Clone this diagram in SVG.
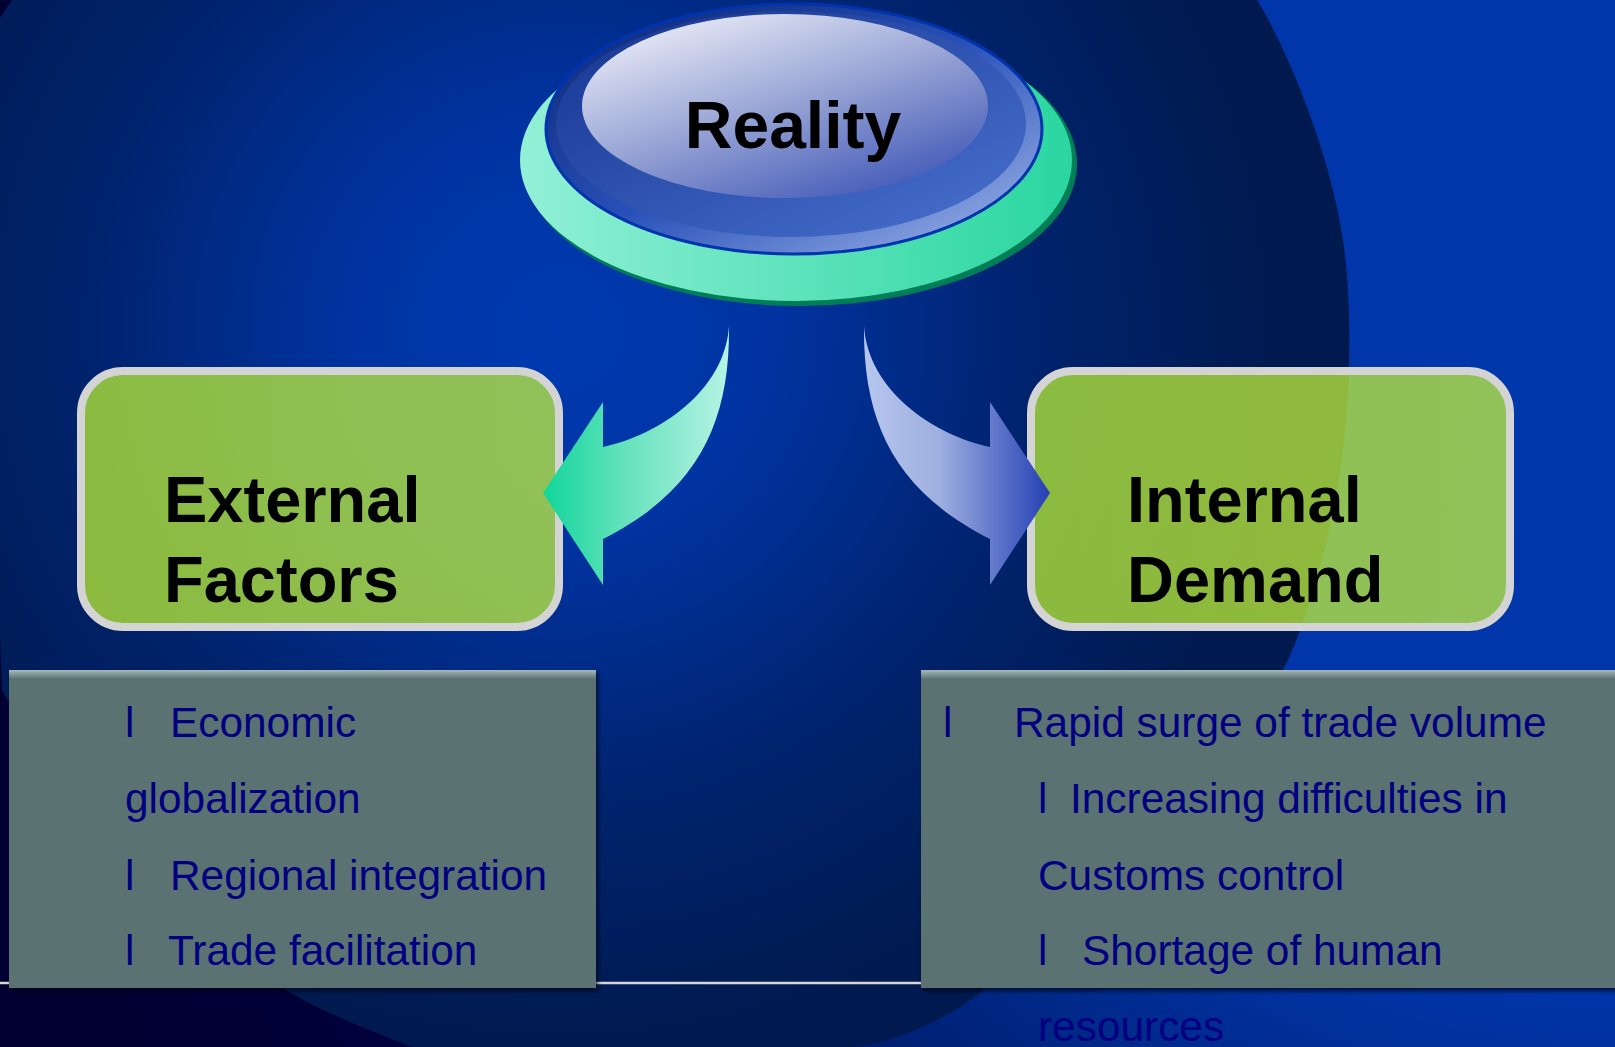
<svg xmlns="http://www.w3.org/2000/svg" width="1615" height="1047" viewBox="0 0 1615 1047">
<defs>
  <radialGradient id="baseBg" gradientUnits="userSpaceOnUse" cx="1615" cy="300" r="1650">
    <stop offset="0" stop-color="#0037ab"/>
    <stop offset="0.42" stop-color="#0035a8"/>
    <stop offset="0.6" stop-color="#00237a"/>
    <stop offset="0.85" stop-color="#00003c"/>
    <stop offset="1" stop-color="#000033"/>
  </radialGradient>
  <radialGradient id="globeBg" gradientUnits="userSpaceOnUse" cx="560" cy="330" r="720">
    <stop offset="0" stop-color="#003ab2"/>
    <stop offset="0.3" stop-color="#0033a0"/>
    <stop offset="0.65" stop-color="#00236e"/>
    <stop offset="1" stop-color="#001a4f"/>
  </radialGradient>
  <linearGradient id="greenDisk" x1="0" y1="0" x2="1" y2="0">
    <stop offset="0" stop-color="#92f0d6"/>
    <stop offset="1" stop-color="#2ad6a0"/>
  </linearGradient>
  <linearGradient id="ringOuter" x1="0" y1="0" x2="1" y2="1">
    <stop offset="0" stop-color="#0a2470"/>
    <stop offset="0.5" stop-color="#2850b8"/>
    <stop offset="1" stop-color="#a6bcec"/>
  </linearGradient>
  <linearGradient id="ringInner" x1="0" y1="0" x2="1" y2="1">
    <stop offset="0" stop-color="#14348f"/>
    <stop offset="1" stop-color="#4a72d0"/>
  </linearGradient>
  <linearGradient id="capTop" x1="0.1" y1="0" x2="0.8" y2="1">
    <stop offset="0" stop-color="#f2f3fa"/>
    <stop offset="0.5" stop-color="#9aa6d6"/>
    <stop offset="1" stop-color="#3f56b6"/>
  </linearGradient>
  <linearGradient id="arrowGreen" gradientUnits="userSpaceOnUse" x1="543" y1="0" x2="729" y2="0">
    <stop offset="0" stop-color="#12d69a"/>
    <stop offset="0.45" stop-color="#66e2bc"/>
    <stop offset="1" stop-color="#b6f3e4"/>
  </linearGradient>
  <linearGradient id="arrowBlue" gradientUnits="userSpaceOnUse" x1="864" y1="0" x2="1050" y2="0">
    <stop offset="0" stop-color="#b6c6ee"/>
    <stop offset="0.4" stop-color="#9fb0e0"/>
    <stop offset="1" stop-color="#2440b4"/>
  </linearGradient>
  <linearGradient id="boxGreen" x1="0" y1="0" x2="1" y2="0">
    <stop offset="0" stop-color="#bcf032"/>
    <stop offset="1" stop-color="#c4f23c"/>
  </linearGradient>
  <linearGradient id="bevel" x1="0" y1="0" x2="0" y2="1">
    <stop offset="0" stop-color="#a9baba"/>
    <stop offset="1" stop-color="#5a7272"/>
  </linearGradient>
  <filter id="shadow" x="-5%" y="-5%" width="115%" height="115%">
    <feDropShadow dx="2" dy="3" stdDeviation="2" flood-color="#000010" flood-opacity="0.7"/>
  </filter>
  <style>
    .gbox { fill: url(#boxGreen); fill-opacity: 0.74; stroke: #d4d4d4; stroke-width: 8; }
    .gtitle { font-family: "Liberation Sans", Arial, sans-serif; font-weight: bold; font-size: 65px; fill: #000000; }
    .gray { fill: #5a7272; }
    .bev { fill: url(#bevel); }
    .item { font-family: "Liberation Sans", Arial, sans-serif; font-size: 42.4px; fill: #000080; }
  </style>
</defs>

<!-- background -->
<rect x="0" y="0" width="1615" height="1047" fill="url(#baseBg)"/>
<path d="M 12,0 L 1257,0 C 1285,45 1330,150 1343,240 C 1356,330 1348,450 1330,527 C 1320,570 1300,640 1283,670 C 1240,760 1080,920 989,985 C 960,1012 905,1040 855,1047 L 412,1047 C 370,1030 315,1010 278,985 C 180,900 60,800 2,690 C -6,500 -6,100 0,18 Z" fill="url(#globeBg)"/>

<!-- separator line -->
<line x1="0" y1="983" x2="1615" y2="983" stroke="#d6d6d6" stroke-width="2.5"/>

<!-- Reality node -->
<g id="reality">
  <ellipse cx="800" cy="164" rx="277" ry="142" fill="#007e58"/>
  <ellipse cx="796" cy="160" rx="276" ry="141" fill="url(#greenDisk)"/>
  <ellipse cx="794" cy="129" rx="248" ry="125" fill="url(#ringOuter)" stroke="#0034ae" stroke-width="3"/>
  <ellipse cx="791" cy="124" rx="235" ry="113" fill="url(#ringInner)"/>
  <ellipse cx="785" cy="106" rx="203" ry="92" fill="url(#capTop)"/>
  <text x="793" y="148" text-anchor="middle" font-family="'Liberation Sans', Arial, sans-serif" font-weight="bold" font-size="66" fill="#000000">Reality</text>
</g>

<!-- External Factors node -->
<g id="external">
  <rect class="gbox" x="81" y="371" width="478" height="256" rx="42" ry="42"/>
  <text class="gtitle" x="164" y="522">External</text>
  <text class="gtitle" x="164" y="602">Factors</text>
</g>

<!-- Internal Demand node -->
<g id="internal">
  <rect class="gbox" x="1031" y="371" width="479" height="256" rx="42" ry="42"/>
  <text class="gtitle" x="1127" y="522">Internal</text>
  <text class="gtitle" x="1127" y="602">Demand</text>
</g>

<!-- connectors -->
<g id="connectors">
  <path d="M 729,326 C 730,420 700,490 603,539 L 603,585 L 543,493 L 603,402 L 603,447 C 660,435 725,390 729,326 Z" fill="url(#arrowGreen)"/>
  <path d="M 864,326 C 863,420 893,490 990,539 L 990,585 L 1050,493 L 990,402 L 990,447 C 933,435 868,390 864,326 Z" fill="url(#arrowBlue)"/>
</g>

<!-- External list -->
<g id="external-list">
  <g filter="url(#shadow)">
    <rect class="gray" x="9" y="670" width="587" height="318"/>
  </g>
  <rect class="bev" x="9" y="670" width="587" height="9"/>
  <text class="item" x="125" y="737">l</text>
  <text class="item" x="170" y="737">Economic</text>
  <text class="item" x="125" y="813">globalization</text>
  <text class="item" x="125" y="890">l</text>
  <text class="item" x="170" y="890">Regional integration</text>
  <text class="item" x="125" y="965">l</text>
  <text class="item" x="168" y="965">Trade facilitation</text>
</g>

<!-- Internal list -->
<g id="internal-list">
  <g filter="url(#shadow)">
    <rect class="gray" x="921" y="670" width="700" height="318"/>
  </g>
  <rect class="bev" x="921" y="670" width="700" height="9"/>
  <text class="item" x="943" y="737">l</text>
  <text class="item" x="1014" y="737">Rapid surge of trade volume</text>
  <text class="item" x="1038" y="813">l</text>
  <text class="item" x="1070" y="813">Increasing difficulties in</text>
  <text class="item" x="1038" y="890">Customs control</text>
  <text class="item" x="1038" y="965">l</text>
  <text class="item" x="1082" y="965">Shortage of human</text>
  <text class="item" x="1038" y="1041">resources</text>
</g>
</svg>
